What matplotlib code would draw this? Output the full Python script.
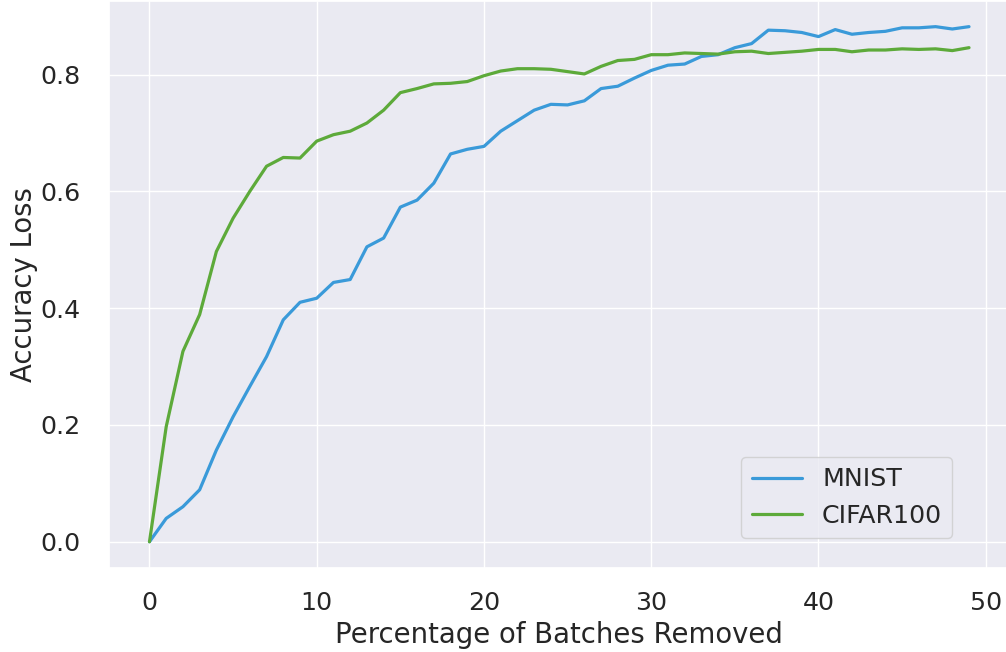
import numpy as np
import matplotlib
matplotlib.use('Agg')
import matplotlib.pyplot as plt
import seaborn as sns

sns.set_theme(style='darkgrid', font_scale=1.65)
plt.rcParams['font.family'] = ['DejaVu Sans']

# percentage of batches removed
pct = list(range(50))

mnist = [0.000, 0.040, 0.060, 0.089, 0.157, 0.214, 0.266, 0.317, 0.380, 0.410,
         0.417, 0.444, 0.449, 0.505, 0.520, 0.573, 0.585, 0.614, 0.664, 0.672,
         0.677, 0.703, 0.721, 0.739, 0.749, 0.748, 0.755, 0.776, 0.780, 0.794,
         0.807, 0.816, 0.818, 0.831, 0.834, 0.846, 0.853, 0.876, 0.875, 0.872,
         0.865, 0.877, 0.869, 0.872, 0.874, 0.880, 0.880, 0.882, 0.878, 0.882]

cifar100 = [0.000, 0.197, 0.326, 0.389, 0.497, 0.554, 0.600, 0.643, 0.658, 0.657,
            0.686, 0.697, 0.703, 0.717, 0.739, 0.769, 0.776, 0.784, 0.785, 0.788,
            0.798, 0.806, 0.810, 0.810, 0.809, 0.805, 0.801, 0.814, 0.824, 0.826,
            0.834, 0.834, 0.837, 0.836, 0.835, 0.839, 0.840, 0.836, 0.838, 0.840,
            0.843, 0.843, 0.839, 0.842, 0.842, 0.844, 0.843, 0.844, 0.841, 0.846]

fig = plt.figure(figsize=(10.06, 6.52), dpi=100)
ax = fig.add_axes([108.5 / 1006, 1 - 567.5 / 652, 901.5 / 1006, 566.6 / 652])
ax.plot(pct, mnist, color='#3a9ad9', lw=2.3, label='MNIST')
ax.plot(pct, cifar100, color='#5daa3a', lw=2.3, label='CIFAR100')
ax.set_xlabel('Percentage of Batches Removed', labelpad=4)
ax.set_ylabel('Accuracy Loss', labelpad=2)
ax.set_xticks([0, 10, 20, 30, 40, 50])
ax.set_yticks([0.0, 0.2, 0.4, 0.6, 0.8])
ax.tick_params(axis='x', pad=11)
ax.tick_params(axis='y', pad=14)
ax.legend(loc='lower right', bbox_to_anchor=(0.936, 0.052), borderaxespad=0)
fig.savefig('out.png')
